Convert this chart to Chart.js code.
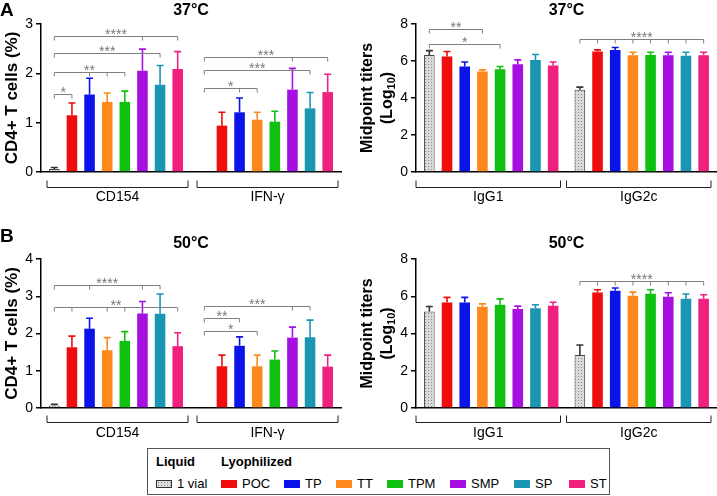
<!DOCTYPE html>
<html>
<head>
<meta charset="utf-8">
<script src="https://cdn.jsdelivr.net/npm/chart.js@4.4.0/dist/chart.umd.min.js"></script>
<style>
  body { margin: 0; background: #fff; font-family: "Liberation Sans", Arial, sans-serif; }
  #wrap { position: relative; width: 717px; height: 496px; overflow: hidden; }
  #wrap canvas { position: absolute; }
  #legend { position: absolute; left: 147px; top: 448px; width: 461px; height: 45px; border: 1px solid #555; font-size: 13px; color: #000; }
  #legend .hd { position: absolute; top: 5px; font-weight: bold; }
  #legend .item { position: absolute; top: 27px; display: flex; align-items: center; white-space: nowrap; }
  #legend .sw { width: 16px; height: 8px; margin-right: 5px; box-sizing: border-box; }
  #legend .hatch { border: 1px solid #333; background-color: #dcdcdc;
    background-image: radial-gradient(#8a8a8a 0.7px, transparent 0.9px); background-size: 3px 3px; }
</style>
</head>
<body>
<div id="wrap">
  <canvas id="cellsA" width="345" height="222" style="left:0;top:0"></canvas>
  <canvas id="iggA" width="359" height="222" style="left:358px;top:0"></canvas>
  <canvas id="cellsB" width="345" height="220" style="left:0;top:225px"></canvas>
  <canvas id="iggB" width="359" height="220" style="left:358px;top:225px"></canvas>
  <div id="legend"></div>
</div>
<script>
// formulations (datasets) and their colours
const formulations = ['1 vial', 'POC', 'TP', 'TT', 'TPM', 'SMP', 'SP', 'ST'];
const colors = ['#dcdcdc', '#f00d0d', '#0a14e8', '#fd891d', '#10c010', '#a50fe0', '#1a96b2', '#f0207f'];
const cellGroups = ['CD154', 'IFN-γ'];
const iggGroups = ['IgG1', 'IgG2c'];

// 37°C - CD4+ T cells (%)
const cd154_37 = [0.06, 1.15, 1.57, 1.42, 1.42, 2.05, 1.77, 2.09];
const cd154_37_sd = [0.03, 0.25, 0.33, 0.18, 0.22, 0.44, 0.39, 0.35];
const ifn_37 = [0.02, 0.94, 1.21, 1.06, 1.02, 1.67, 1.29, 1.62];
const ifn_37_sd = [0, 0.27, 0.29, 0.15, 0.21, 0.43, 0.32, 0.36];
// 37°C - midpoint titers (log10)
const igg1_37 = [6.33, 6.24, 5.70, 5.43, 5.56, 5.83, 6.06, 5.76];
const igg1_37_sd = [0.23, 0.27, 0.25, 0.09, 0.14, 0.23, 0.29, 0.19];
const igg2c_37 = [4.44, 6.51, 6.60, 6.31, 6.33, 6.31, 6.29, 6.31];
const igg2c_37_sd = [0.15, 0.09, 0.13, 0.16, 0.14, 0.16, 0.18, 0.16];
// 50°C - CD4+ T cells (%)
const cd154_50 = [0.07, 1.63, 2.13, 1.55, 1.80, 2.54, 2.53, 1.66];
const cd154_50_sd = [0.03, 0.30, 0.28, 0.34, 0.25, 0.32, 0.53, 0.36];
const ifn_50 = [0, 1.12, 1.67, 1.12, 1.30, 1.89, 1.90, 1.11];
const ifn_50_sd = [0, 0.30, 0.24, 0.30, 0.23, 0.28, 0.46, 0.31];
// 50°C - midpoint titers (log10)
const igg1_50 = [5.18, 5.67, 5.67, 5.43, 5.54, 5.32, 5.36, 5.49];
const igg1_50_sd = [0.27, 0.27, 0.27, 0.16, 0.32, 0.15, 0.18, 0.19];
const igg2c_50 = [2.84, 6.20, 6.29, 6.03, 6.13, 5.97, 5.86, 5.86];
const igg2c_50_sd = [0.54, 0.15, 0.15, 0.19, 0.22, 0.22, 0.26, 0.22];

// significance brackets: group, height (data units), compared formulations, label
const sigCells37 = [
  { group: 0, y: 1.58, to: [1], label: '*' },
  { group: 0, y: 2.03, to: [2, 3, 4], label: '**' },
  { group: 0, y: 2.42, to: [6], label: '***' },
  { group: 0, y: 2.76, to: [5, 7], label: '****' },
  { group: 1, y: 1.70, to: [2, 3], label: '*' },
  { group: 1, y: 2.07, to: [6], label: '***' },
  { group: 1, y: 2.34, to: [5, 7], label: '***' }
];
const sigIgg37 = [
  { group: 0, y: 7.72, to: [3], label: '**' },
  { group: 0, y: 6.91, to: [4], label: '*' },
  { group: 1, y: 7.18, to: [1, 2, 3, 4, 5, 6, 7], label: '****' }
];
const sigCells50 = [
  { group: 0, y: 3.31, to: [2, 5, 6], label: '****' },
  { group: 0, y: 2.71, to: [1, 3, 4, 7], label: '**' },
  { group: 1, y: 2.74, to: [5, 6], label: '***' },
  { group: 1, y: 2.41, to: [2], label: '**' },
  { group: 1, y: 2.08, to: [3], label: '*' }
];
const sigIgg50 = [
  { group: 1, y: 6.80, to: [1, 2, 3, 4, 5, 6, 7], label: '****' }
];

Chart.defaults.font.family = '"Liberation Sans", Arial, sans-serif';
Chart.defaults.color = '#000';

function dotPattern() {
  const c = document.createElement('canvas');
  c.width = 3; c.height = 3;
  const g = c.getContext('2d');
  g.fillStyle = '#dadada';
  g.fillRect(0, 0, 3, 3);
  g.fillStyle = '#888';
  g.fillRect(1, 1, 1, 1);
  return g.createPattern(c, 'repeat');
}
const hatch = dotPattern();

// error bars, brackets, titles
const extras = {
  id: 'extras',
  afterDatasetsDraw(chart, args, o) {
    const ctx = chart.ctx, ys = chart.scales.y, xs = chart.scales.x, area = chart.chartArea;
    ctx.save();
    chart.data.datasets.forEach((ds, i) => {
      chart.getDatasetMeta(i).data.forEach((bar, j) => {
        const sd = ds.errors[j];
        if (!sd) return;
        const top = ys.getPixelForValue(ds.data[j] + sd);
        ctx.strokeStyle = i === 0 ? '#333' : colors[i];
        ctx.lineWidth = 1.6;
        ctx.beginPath();
        ctx.moveTo(bar.x, bar.y);
        ctx.lineTo(bar.x, top);
        ctx.moveTo(bar.x - 3.5, top);
        ctx.lineTo(bar.x + 3.5, top);
        ctx.stroke();
      });
    });

    // significance
    ctx.strokeStyle = '#808080';
    ctx.fillStyle = '#777';
    ctx.lineWidth = 1;
    ctx.font = '14px "Liberation Sans", Arial, sans-serif';
    ctx.textAlign = 'center';
    ctx.textBaseline = 'alphabetic';
    o.sig.forEach(s => {
      const x0 = chart.getDatasetMeta(0).data[s.group].x;
      const xs2 = s.to.map(k => chart.getDatasetMeta(k).data[s.group].x);
      const x1 = Math.max(...xs2);
      const yy = Math.round(ys.getPixelForValue(s.y)) + 0.5;
      ctx.beginPath();
      ctx.moveTo(x0, yy + 4);
      ctx.lineTo(x0, yy);
      ctx.lineTo(x1, yy);
      xs2.forEach(x => { ctx.moveTo(x, yy); ctx.lineTo(x, yy + 4); });
      ctx.stroke();
      ctx.fillText(s.label, (x0 + x1) / 2, yy + 2);
    });

    // group brackets under the axis
    ctx.strokeStyle = '#222';
    ctx.lineWidth = 1;
    ctx.fillStyle = '#000';
    ctx.font = '14px "Liberation Sans", Arial, sans-serif';
    ctx.textBaseline = 'middle';
    const half = (area.right - area.left) / chart.data.labels.length / 2;
    chart.data.labels.forEach((lab, j) => {
      const cx = xs.getPixelForValue(j);
      const l = cx - half + o.inset[0], r = cx + half - o.inset[1];
      const by = area.bottom + o.bracketGap + 0.5;
      ctx.beginPath();
      ctx.moveTo(l, by - 7);
      ctx.lineTo(l, by);
      ctx.lineTo(r, by);
      ctx.lineTo(r, by - 7);
      ctx.stroke();
      ctx.fillText(lab, (l + r) / 2, area.bottom + o.labelGap);
    });

    // panel title
    ctx.font = 'bold 16px "Liberation Sans", Arial, sans-serif';
    ctx.fillText(o.title, (area.left + area.right) / 2, o.titleY);
    if (o.letter) {
      ctx.font = 'bold 19px "Liberation Sans", Arial, sans-serif';
      ctx.textAlign = 'left';
      ctx.fillText(o.letter, 0, o.letterY);
    }
    if (o.log) {
      // two-line axis title with subscript
      ctx.translate(0, (area.top + area.bottom) / 2);
      ctx.rotate(-Math.PI / 2);
      ctx.textAlign = 'center';
      ctx.font = 'bold 16px "Liberation Sans", Arial, sans-serif';
      ctx.fillText('Midpoint titers', 0, 10);
      const a = '(Log', b = '10', c = ')';
      const fb = 'bold 16px "Liberation Sans", Arial, sans-serif';
      const fs = 'bold 11px "Liberation Sans", Arial, sans-serif';
      ctx.font = fb; const wa = ctx.measureText(a).width, wc = ctx.measureText(c).width;
      ctx.font = fs; const wb = ctx.measureText(b).width;
      let x = -(wa + wb + wc) / 2;
      ctx.textAlign = 'left';
      ctx.font = fb; ctx.fillText(a, x, 30); x += wa;
      ctx.font = fs; ctx.fillText(b, x, 34); x += wb;
      ctx.font = fb; ctx.fillText(c, x, 30);
    }
    ctx.restore();
  }
};

function makePanel(id, groups, series, errs, max, step, sig, cfg) {
  const datasets = formulations.map((name, i) => ({
    label: name,
    data: series.map(s => s[i]),
    errors: errs.map(s => s[i]),
    backgroundColor: i === 0 ? hatch : colors[i],
    borderColor: '#444',
    borderWidth: i === 0 ? 1 : 0,
    categoryPercentage: 0.94,
    barPercentage: 0.6
  }));
  return new Chart(document.getElementById(id), {
    type: 'bar',
    data: { labels: groups, datasets },
    options: {
      responsive: false,
      animation: false,
      layout: { padding: { top: cfg.top, right: cfg.right, left: 0, bottom: 0 } },
      plugins: {
        legend: { display: false },
        tooltip: { enabled: false },
        extras: Object.assign({ sig }, cfg)
      },
      scales: {
        x: {
          ticks: { display: false },
          grid: { display: false },
          border: { display: true, color: '#000', width: 1.5 },
          afterFit: s => { s.height = cfg.xh; }
        },
        y: {
          min: 0, max: max,
          ticks: { stepSize: step, font: { size: 14 }, color: '#000', padding: 3 },
          grid: { drawOnChartArea: false, drawTicks: true, tickLength: 5, color: '#000', lineWidth: 1.5 },
          border: { display: true, color: '#000', width: 1.5 },
          title: { display: !cfg.log, text: 'CD4+ T cells (%)', color: '#000',
                   font: { size: 17, weight: 'bold' }, padding: { top: 2, bottom: 0 } },
          afterFit: s => { s.width = cfg.yw; }
        }
      }
    },
    plugins: [extras]
  });
}

makePanel('cellsA', cellGroups, [cd154_37, ifn_37], [cd154_37_sd, ifn_37_sd], 3, 1, sigCells37,
  { top: 24, right: 4, xh: 50, yw: 41, title: '37°C', titleY: 11, letter: 'A', letterY: 11,
    inset: [6, 3], bracketGap: 15, labelGap: 25 });
makePanel('iggA', iggGroups, [igg1_37, igg2c_37], [igg1_37_sd, igg2c_37_sd], 8, 2, sigIgg37,
  { top: 24, right: 0, xh: 50, yw: 58, title: '37°C', titleY: 11, log: true,
    inset: [0, 6], bracketGap: 15, labelGap: 25 });
makePanel('cellsB', cellGroups, [cd154_50, ifn_50], [cd154_50_sd, ifn_50_sd], 4, 1, sigCells50,
  { top: 34, right: 4, xh: 37, yw: 41, title: '50°C', titleY: 19, letter: 'B', letterY: 12,
    inset: [6, 3], bracketGap: 14, labelGap: 25 });
makePanel('iggB', iggGroups, [igg1_50, igg2c_50], [igg1_50_sd, igg2c_50_sd], 8, 2, sigIgg50,
  { top: 34, right: 0, xh: 37, yw: 58, title: '50°C', titleY: 19, log: true,
    inset: [0, 6], bracketGap: 14, labelGap: 25 });

// legend
const legend = document.getElementById('legend');
legend.innerHTML = '<span class="hd" style="left:8px">Liquid</span><span class="hd" style="left:73px">Lyophilized</span>';
const itemX = [8, 73, 136, 188, 239, 302, 366, 421];
formulations.forEach((name, i) => {
  const it = document.createElement('span');
  it.className = 'item';
  it.style.left = itemX[i] + 'px';
  const sw = document.createElement('span');
  sw.className = 'sw' + (i === 0 ? ' hatch' : '');
  if (i > 0) sw.style.background = colors[i];
  it.appendChild(sw);
  it.appendChild(document.createTextNode(name));
  legend.appendChild(it);
});
</script>
</body>
</html>
